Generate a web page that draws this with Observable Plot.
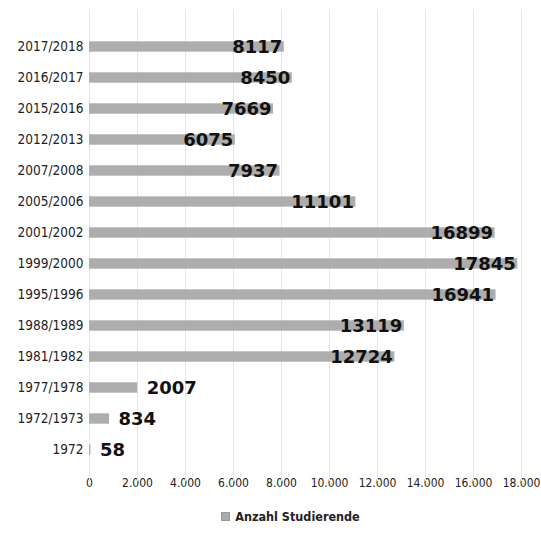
<!DOCTYPE html>
<html>
<head>
<meta charset="utf-8">
<script src="https://cdn.jsdelivr.net/npm/d3@7"></script>
<script src="https://cdn.jsdelivr.net/npm/@observablehq/plot@0.6"></script>
<style>
  body { margin: 0; background: #fff; }
  #chart { width: 541px; }
  .legend { display: flex; justify-content: center; align-items: center; gap: 5px;
    font-family: "DejaVu Sans Condensed", "DejaVu Sans", sans-serif; font-weight: bold;
    font-size: 12.5px; color: #222; height: 33px; margin-left: 40px; }
  .legend .sw { width: 7px; height: 7px; background: #aaa; border: 1px solid #999; }
</style>
</head>
<body>
<div id="chart"></div>
<script>
// Semesters, top to bottom
const semesters = ["2017/2018", "2016/2017", "2015/2016", "2012/2013", "2007/2008", "2005/2006",
  "2001/2002", "1999/2000", "1995/1996", "1988/1989", "1981/1982", "1977/1978", "1972/1973", "1972"];
// Number of students per semester
const students = [8117, 8450, 7669, 6075, 7937, 11101, 16899, 17845, 16941, 13119, 12724, 2007, 834, 58];
const xTicks = [0, 2000, 4000, 6000, 8000, 10000, 12000, 14000, 16000, 18000];

const rows = semesters.map((s, i) => ({semester: s, value: students[i]}));
const fmt = d => d3.format(",")(d).replace(/,/g, ".");
const inside = d => d.value >= 5000;

const chart = Plot.plot({
  width: 541,
  height: 500,
  marginLeft: 89,
  marginRight: 20,
  marginTop: 26,
  marginBottom: 31,
  style: {fontFamily: "'DejaVu Sans Condensed', 'DejaVu Sans', sans-serif", fontSize: "12px", color: "#222", background: "#fff"},
  x: {domain: [0, 18000], ticks: xTicks, tickFormat: fmt, tickSize: 0, tickPadding: 9, label: null},
  y: {domain: semesters, padding: 0, tickSize: 0, tickPadding: 6, label: null},
  marks: [
    Plot.ruleX(xTicks, {stroke: "#e6e6e6", strokeWidth: 1, y1: () => semesters[0], y2: () => semesters[semesters.length - 1], insetTop: -22, insetBottom: -16}),
    Plot.barX(rows, {x: "value", y: "semester", fill: "#adadad", insetTop: 10.3, insetBottom: 10.3}),
    Plot.text(rows.filter(inside), {x: "value", y: "semester", text: d => String(d.value),
      textAnchor: "end", dx: -2, fontSize: 18, fontWeight: "bold", fill: "#111",
      fontFamily: "'DejaVu Sans', sans-serif"}),
    Plot.text(rows.filter(d => !inside(d)), {x: "value", y: "semester", text: d => String(d.value),
      textAnchor: "start", dx: 9, fontSize: 18, fontWeight: "bold", fill: "#111",
      fontFamily: "'DejaVu Sans', sans-serif"}),
    Plot.axisY({tickSize: 0, tickPadding: 6, fontSize: 13.5})
  ]
});
document.getElementById("chart").appendChild(chart);

const legend = document.createElement("div");
legend.className = "legend";
legend.innerHTML = '<span class="sw"></span><span>Anzahl Studierende</span>';
document.getElementById("chart").appendChild(legend);
</script>
</body>
</html>
